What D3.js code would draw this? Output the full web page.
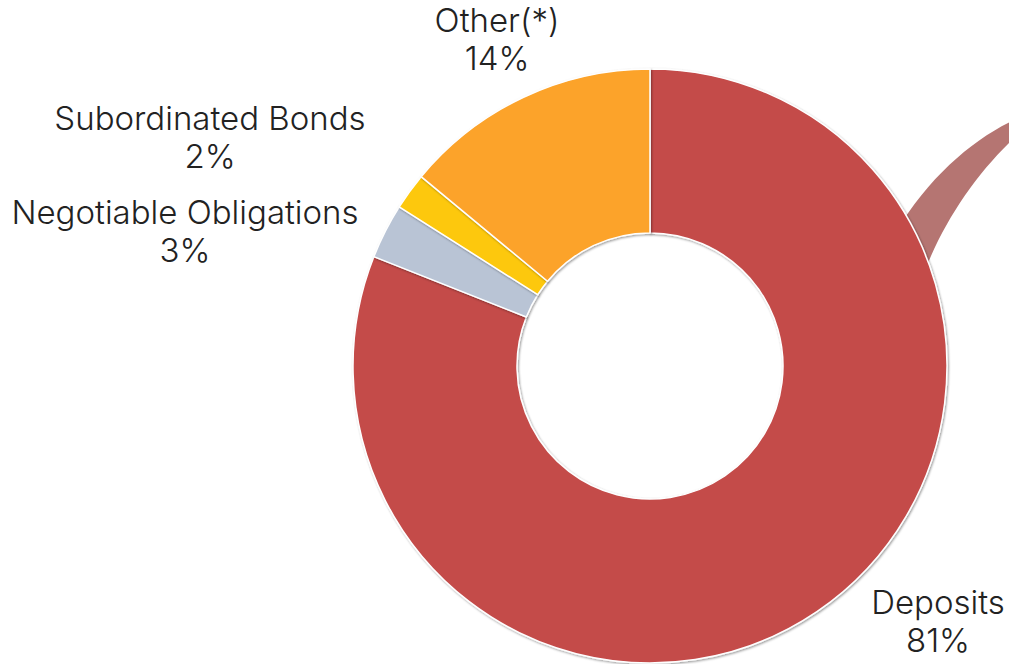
<!DOCTYPE html>
<html>
<head>
<meta charset="utf-8">
<script src="https://cdn.jsdelivr.net/npm/d3@7"></script>
<style>
html,body{margin:0;padding:0;background:#fff;}
svg{display:block;}
text{font-family:Inter, "Noto Sans", sans-serif;}
</style>
</head>
<body>
<svg id="chart" width="1009" height="664"></svg>
<script>
const categories = ["Deposits", "Negotiable Obligations", "Subordinated Bonds", "Other(*)"];
const values = [81, 3, 2, 14];
const colors = ["#c44b4a", "#b9c4d5", "#fdc80b", "#fca32a"];

// layout
const W = 1009, H = 664;
const cx = 650, cy = 366, outerR = 297, innerR = 133;
const labelAnchor = {
  "Deposits": [938, 614],
  "Negotiable Obligations": [185, 224],
  "Subordinated Bonds": [210, 130],
  "Other(*)": [497, 32]
};
const lineGap = 38;

const svg = d3.select("#chart");
const defs = svg.append("defs");
const f = defs.append("filter").attr("id","shadow").attr("x","-10%").attr("y","-10%").attr("width","120%").attr("height","120%");
f.append("feDropShadow").attr("dx",1).attr("dy",1.2).attr("stdDeviation",0.8).attr("flood-color","#000").attr("flood-opacity",0.4);

// decorative band behind donut
svg.append("path")
  .attr("d", "M1012,121 C972,140 928,178 896,232 L915,300 C932,240 968,182 1012,140 Z")
  .attr("fill", "#b57572");

const data = categories.map((c,i)=>({name:c, value:values[i], color:colors[i]}));
const pie = d3.pie().value(d=>d.value).sort(null).startAngle(0).endAngle(2*Math.PI);
const arc = d3.arc().innerRadius(innerR).outerRadius(outerR);
const total = d3.sum(values);

const g = svg.append("g").attr("transform", `translate(${cx},${cy})`);
g.selectAll("path.slice").data(pie(data)).join("path")
  .attr("class","slice")
  .attr("d", arc)
  .attr("fill", d=>d.data.color)
  .attr("stroke", "#fff")
  .attr("stroke-width", 1.5)
  .attr("stroke-linejoin","round")
  .attr("filter","url(#shadow)");

const lbl = svg.append("g");
data.forEach(d=>{
  const [x,y] = labelAnchor[d.name];
  const t = lbl.append("text")
    .attr("text-anchor","middle")
    .attr("font-size", 33)
    .attr("font-weight", 300)
    .attr("fill", "#222");
  t.append("tspan").attr("x", x).attr("y", y).text(d.name);
  t.append("tspan").attr("x", x).attr("y", y + lineGap).text(Math.round(d.value/total*100) + "%");
});
</script>
</body>
</html>
